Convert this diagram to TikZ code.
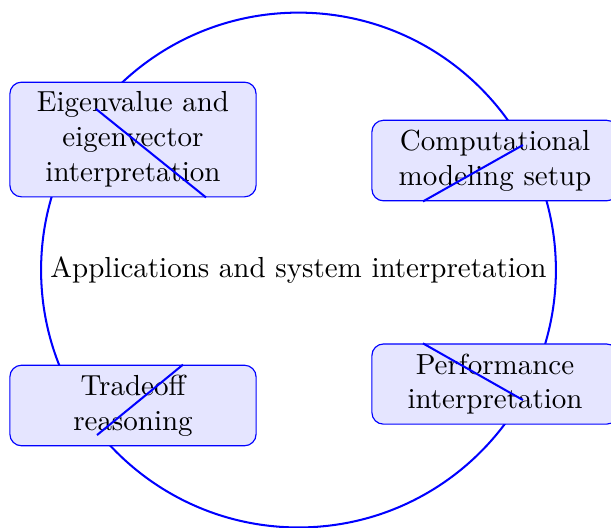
\documentclass[tikz,border=0pt]{standalone}
\usetikzlibrary{shapes, calc, positioning}

\begin{document}
\begin{tikzpicture}[>=latex, topic/.style={draw=blue, thin, fill=blue!10, rounded corners, text width=2.75cm, align=center}, link/.style={draw=blue, line width=0.7pt}]

    \useasboundingbox (-3.618,-3.115) rectangle (3.788,3.273);

    \draw[blue, line width=0.7pt] (0,0) circle (3.12cm);
    \node (apps) at (0,0) {Applications and system interpretation};

    \node[topic] (eigen) at (-2.006,1.582) {Eigenvalue and eigenvector interpretation};
    \node[topic] (model) at (2.382,1.327) {Computational modeling setup};
    \node[topic] (perf)  at (2.382,-1.382) {Performance interpretation};
    \node[topic] (trade) at (-2.006,-1.642) {Tradeoff reasoning};

    \coordinate (eigenin) at ([xshift=-0.448cm, yshift=0.370cm] eigen.center);
    \coordinate (modelin) at ([xshift=0.339cm, yshift=0.188cm] model.center);
    \coordinate (perfin)  at ([xshift=0.339cm, yshift=-0.194cm] perf.center);
    \coordinate (tradein) at ([xshift=-0.436cm, yshift=-0.358cm] trade.center);

    \draw[link] (eigenin) -- ([xshift=0.885cm] eigen.south);
    \draw[link] ([xshift=-0.873cm] model.south) -- (modelin);
    \draw[link] ([xshift=-0.873cm] perf.north) -- (perfin);
    \draw[link] ([xshift=0.606cm] trade.north) -- (tradein);

\end{tikzpicture}
\end{document}
